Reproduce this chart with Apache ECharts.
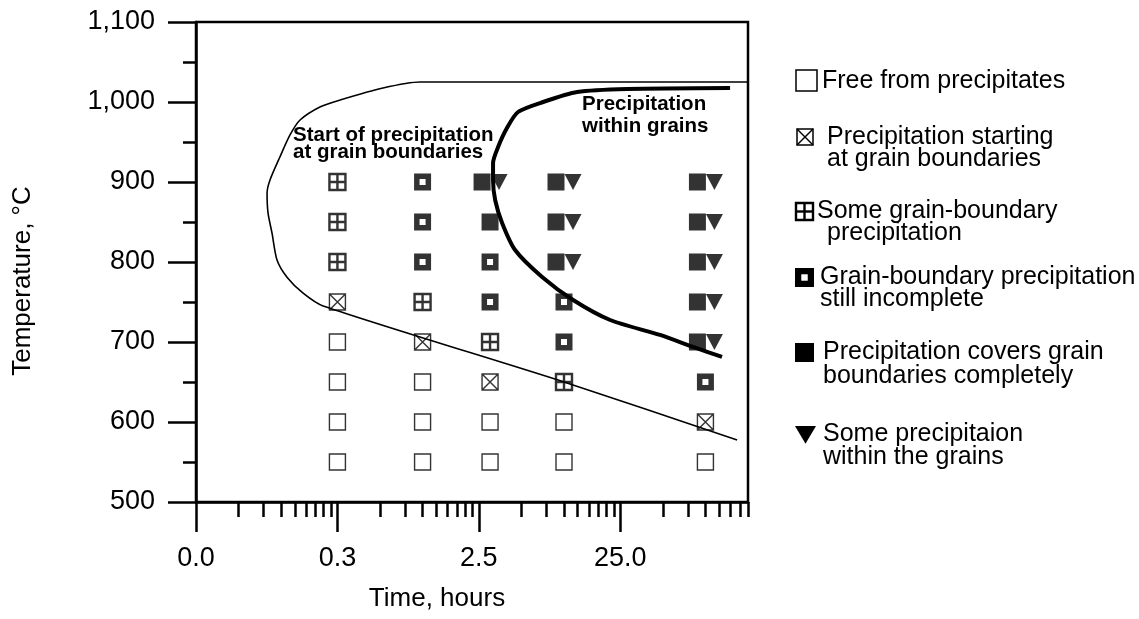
<!DOCTYPE html>
<html>
<head>
<meta charset="utf-8">
<title>Precipitation in grain boundaries – time–temperature diagram</title>
<script src="https://cdn.jsdelivr.net/npm/echarts@6/dist/echarts.min.js"></script>
<style>
  html, body { margin: 0; padding: 0; background: #fff; }
  #chart { width: 1139px; height: 619px; }
</style>
</head>
<body>
<div id="chart"></div>
<script>
// ---- axis ticks and labels ----
const timeMajorTicks = [0.025, 0.25, 2.5, 25];
const timeTickLabels = ['0.0', '0.3', '2.5', '25.0'];
const timeMinorTicks = [
  0.05, 0.075, 0.1, 0.125, 0.15, 0.175, 0.2, 0.225,
  0.5, 0.75, 1, 1.25, 1.5, 1.75, 2, 2.25,
  5, 7.5, 10, 12.5, 15, 17.5, 20, 22.5,
  50, 75, 100, 125, 150, 175, 200
];
const tempTicks = [500, 600, 700, 800, 900, 1000, 1100];
const tempTickLabels = ['500', '600', '700', '800', '900', '1,000', '1,100'];

// ---- observations: [time in hours, temperature in °C] ----
const freeFromPrecipitates = [
  [0.25, 700], [0.25, 650], [0.25, 600], [0.25, 550],
  [1, 650], [1, 600], [1, 550],
  [3, 600], [3, 550],
  [10, 600], [10, 550],
  [100, 550]
];
const startingAtBoundaries = [[0.25, 750], [1, 700], [3, 650], [100, 600]];
const someBoundaryPrecip = [[0.25, 900], [0.25, 850], [0.25, 800], [1, 750], [3, 700], [10, 650]];
const boundaryIncomplete = [
  [1, 900], [1, 850], [1, 800],
  [3, 800], [3, 750],
  [10, 750], [10, 700],
  [100, 650]
];
const boundaryComplete = [
  [3, 900], [3, 850],
  [10, 900], [10, 850], [10, 800],
  [100, 900], [100, 850], [100, 800], [100, 750], [100, 700]
];
const withinGrains = [
  [3, 900],
  [10, 900], [10, 850], [10, 800],
  [100, 900], [100, 850], [100, 800], [100, 750], [100, 700]
];

// ---- boundary curves: [time in hours, temperature in °C] ----
const boundaryStartCurve = [
  [200, 1025], [0.96, 1025], [0.525, 1017.5], [0.261, 1002.5], [0.188, 993.8],
  [0.136, 977.5], [0.1155, 958.8], [0.098, 931.3], [0.0834, 902.5], [0.0795, 886],
  [0.0808, 861], [0.0862, 836], [0.0935, 802.5], [0.110, 781], [0.143, 761],
  [0.198, 745], [10.5, 648.8], [167.5, 577.5]
];
const withinGrainCurve = [
  [149.4, 1017.5], [27.9, 1016.3], [12.4, 1012.5], [7.11, 1000], [4.73, 987.5],
  [3.95, 967.5], [3.42, 943.8], [3.15, 923.8], [3.15, 902.5], [3.26, 877.5],
  [3.65, 848.8], [4.51, 815], [7.0, 781.3], [11.6, 752.5], [21.2, 727.5],
  [47.7, 708.8], [81.8, 693.8], [131, 681.3]
];

// ---- legend text ----
const legendLabels = [
  ['Free from precipitates'],
  ['Precipitation starting', 'at grain boundaries'],
  ['Some grain-boundary', 'precipitation'],
  ['Grain-boundary precipitation', 'still incomplete'],
  ['Precipitation covers grain', 'boundaries completely'],
  ['Some precipitaion', 'within the grains']
];

const FONT = '"Liberation Sans", Arial, Helvetica, sans-serif';
const INK = '#000';

function sameTick(a, b) { return Math.abs(Math.log10(a / b)) < 1e-6; }
function timeLabel(v) {
  const i = timeMajorTicks.findIndex(t => sameTick(t, v));
  return i >= 0 ? timeTickLabels[i] : '';
}
function tempLabel(v) {
  const i = tempTicks.indexOf(Math.round(v));
  return i >= 0 ? tempTickLabels[i] : '';
}

// A solid square sits left of its triangle when both share a grid point
const completeData = boundaryComplete.map(p => {
  const paired = withinGrains.some(q => q[0] === p[0] && q[1] === p[1]);
  return paired ? { value: p, symbolOffset: [-8, 0] } : { value: p };
});

const noHover = { disabled: true };

// ---- legend drawn as graphic elements ----
const legendLayout = [
  { icon: 'free',       box: [796, 70, 21], x: [822],      y: [81] },
  { icon: 'start',      box: [797, 129, 16], x: [827, 827], y: [137, 159] },
  { icon: 'some',       box: [796, 203, 17], x: [817, 827], y: [211, 233] },
  { icon: 'incomplete', box: [795, 268, 19], x: [820, 820], y: [277, 299] },
  { icon: 'complete',   box: [795, 343, 19], x: [823, 823], y: [352, 376] },
  { icon: 'within',     box: [795, 426, 21], x: [823, 823], y: [434, 457] }
];

function legendIcon(kind, box) {
  const [x, y, s] = box;
  const els = [];
  if (kind === 'free') {
    els.push({ type: 'rect', shape: { x, y, width: s, height: s }, style: { fill: '#fff', stroke: INK, lineWidth: 1.5 } });
  } else if (kind === 'start') {
    els.push({ type: 'rect', shape: { x, y, width: s, height: s }, style: { fill: '#fff', stroke: INK, lineWidth: 1.5 } });
    els.push({ type: 'line', shape: { x1: x, y1: y, x2: x + s, y2: y + s }, style: { stroke: INK, lineWidth: 1.4 } });
    els.push({ type: 'line', shape: { x1: x + s, y1: y, x2: x, y2: y + s }, style: { stroke: INK, lineWidth: 1.4 } });
  } else if (kind === 'some') {
    els.push({ type: 'rect', shape: { x, y, width: s, height: s }, style: { fill: '#fff', stroke: INK, lineWidth: 2.4 } });
    els.push({ type: 'line', shape: { x1: x + s / 2, y1: y, x2: x + s / 2, y2: y + s }, style: { stroke: INK, lineWidth: 2.4 } });
    els.push({ type: 'line', shape: { x1: x, y1: y + s / 2, x2: x + s, y2: y + s / 2 }, style: { stroke: INK, lineWidth: 2.4 } });
  } else if (kind === 'incomplete') {
    els.push({ type: 'rect', shape: { x, y, width: s, height: s }, style: { fill: INK } });
    els.push({ type: 'rect', shape: { x: x + s * 0.33, y: y + s * 0.33, width: s * 0.34, height: s * 0.34 }, style: { fill: '#fff' } });
  } else if (kind === 'complete') {
    els.push({ type: 'rect', shape: { x, y, width: s, height: s }, style: { fill: INK } });
  } else if (kind === 'within') {
    els.push({ type: 'polygon', shape: { points: [[x, y], [x + s, y], [x + s / 2, y + s * 0.85]] }, style: { fill: INK } });
  }
  return els;
}

const legendGraphics = [];
legendLayout.forEach((item, i) => {
  legendGraphics.push(...legendIcon(item.icon, item.box));
  legendLabels[i].forEach((line, j) => {
    legendGraphics.push({
      type: 'text',
      style: {
        x: item.x[j], y: item.y[j], text: line,
        font: '25px ' + FONT, fill: INK,
        align: 'left', verticalAlign: 'middle'
      }
    });
  });
});

const annotationGraphics = [
  {
    type: 'text',
    style: {
      x: 293, y: 127, text: 'Start of precipitation\nat grain boundaries',
      font: 'bold 20.5px ' + FONT, lineHeight: 17, fill: INK,
      align: 'left', verticalAlign: 'top'
    },
    z: 10
  },
  {
    type: 'text',
    style: {
      x: 582, y: 93, text: 'Precipitation\nwithin grains',
      font: 'bold 20.5px ' + FONT, lineHeight: 22, fill: INK,
      align: 'left', verticalAlign: 'top'
    },
    z: 10
  }
];

const axisLine = { show: true, lineStyle: { color: INK, width: 2.5 } };

const option = {
  animation: false,
  backgroundColor: '#fff',
  grid: {
    left: 196, right: 391, top: 22, bottom: 117,
    show: true, borderColor: INK, borderWidth: 2.5, backgroundColor: 'transparent'
  },
  xAxis: [
    {
      type: 'log', logBase: 10, min: 0.025, max: 200, position: 'bottom',
      axisLine,
      axisTick: { show: true, inside: false, length: 30, customValues: timeMajorTicks, lineStyle: { color: INK, width: 2.5 } },
      axisLabel: {
        show: true, customValues: timeMajorTicks, formatter: timeLabel,
        margin: 43, fontSize: 27, lineHeight: 28, color: INK, fontFamily: FONT
      },
      minorTick: { show: false }, splitLine: { show: false }, minorSplitLine: { show: false },
      name: 'Time, hours', nameLocation: 'middle', nameGap: 82,
      nameTextStyle: { fontSize: 26, lineHeight: 30, color: INK, fontFamily: FONT, padding: [0, 70, 0, 0] }
    },
    {
      type: 'log', logBase: 10, min: 0.025, max: 200, position: 'bottom',
      axisLine: { show: false },
      axisTick: { show: true, inside: false, length: 15, customValues: timeMinorTicks, lineStyle: { color: INK, width: 2.5 } },
      axisLabel: { show: false },
      splitLine: { show: false }, minorSplitLine: { show: false }
    }
  ],
  yAxis: {
    type: 'value', min: 500, max: 1100, interval: 100,
    axisLine,
    axisTick: { show: true, inside: false, length: 28, lineStyle: { color: INK, width: 2.5 } },
    minorTick: { show: true, splitNumber: 2, length: 13, lineStyle: { color: INK, width: 2.5 } },
    axisLabel: { formatter: tempLabel, margin: 41, fontSize: 27, color: INK, fontFamily: FONT },
    splitLine: { show: false }, minorSplitLine: { show: false },
    name: 'Temperature, °C', nameLocation: 'middle', nameGap: 159, nameRotate: 90,
    nameTextStyle: { fontSize: 26, lineHeight: 28, color: INK, fontFamily: FONT, padding: [0, 38, 0, 0] }
  },
  series: [
    {
      name: 'Free from precipitates', type: 'scatter', data: freeFromPrecipitates,
      symbol: 'rect', symbolSize: 16,
      itemStyle: { color: '#fff', borderColor: INK, borderWidth: 1.4 }, emphasis: noHover, z: 3
    },
    {
      name: 'Precipitation starting at grain boundaries', type: 'scatter', data: startingAtBoundaries,
      symbol: 'path://M0,0H16V16H0ZM0,0L16,16M16,0L0,16', symbolSize: 16,
      itemStyle: { color: '#fff', borderColor: INK, borderWidth: 1.4 }, emphasis: noHover, z: 3
    },
    {
      name: 'Some grain-boundary precipitation', type: 'scatter', data: someBoundaryPrecip,
      symbol: 'path://M0,0H16V16H0ZM8,0V16M0,8H16', symbolSize: 16,
      itemStyle: { color: '#fff', borderColor: INK, borderWidth: 2.4 }, emphasis: noHover, z: 3
    },
    {
      name: 'Grain-boundary precipitation still incomplete', type: 'scatter', data: boundaryIncomplete,
      symbol: 'path://M0,0H17V17H0ZM5.5,5.5V11.5H11.5V5.5Z', symbolSize: 17,
      itemStyle: { color: INK }, emphasis: noHover, z: 3
    },
    {
      name: 'Precipitation covers grain boundaries completely', type: 'scatter', data: completeData,
      symbol: 'rect', symbolSize: 17,
      itemStyle: { color: INK }, emphasis: noHover, z: 3
    },
    {
      name: 'Some precipitaion within the grains', type: 'scatter', data: withinGrains,
      symbol: 'path://M0,0H17L8.5,16Z', symbolSize: [17, 16], symbolOffset: [9, 0],
      itemStyle: { color: INK }, emphasis: noHover, z: 3
    },
    {
      name: 'Start of precipitation at grain boundaries', type: 'line', data: boundaryStartCurve,
      showSymbol: false, symbol: 'none', smooth: 0.25,
      lineStyle: { color: INK, width: 1.6 }, emphasis: noHover, silent: true, z: 5
    },
    {
      name: 'Precipitation within grains', type: 'line', data: withinGrainCurve,
      showSymbol: false, symbol: 'none', smooth: 0.25,
      lineStyle: { color: INK, width: 4 }, emphasis: noHover, silent: true, z: 5
    }
  ],
  graphic: annotationGraphics.concat(legendGraphics)
};

const chart = echarts.init(document.getElementById('chart'), null, { renderer: 'canvas' });
chart.setOption(option);
</script>
</body>
</html>
